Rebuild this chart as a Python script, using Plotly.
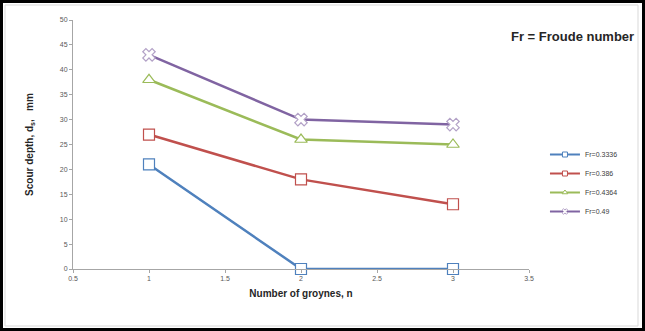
import plotly.graph_objects as go

n_groynes = [1, 2, 3]
series_names = ["Fr=0.3336", "Fr=0.386", "Fr=0.4364", "Fr=0.49"]
fr_03336 = [21, 0, 0]
fr_0386 = [27, 18, 13]
fr_04364 = [38, 26, 25]
fr_049 = [43, 30, 29]
x_ticks = [0.5, 1, 1.5, 2, 2.5, 3, 3.5]
x_tick_labels = ["0.5", "1", "1.5", "2", "2.5", "3", "3.5"]
y_ticks = [0, 5, 10, 15, 20, 25, 30, 35, 40, 45, 50]

colors = ["#4F81BD", "#C0504D", "#9BBB59", "#8064A2"]
symbols = ["square", "square", "triangle-up", "x"]
data = [fr_03336, fr_0386, fr_04364, fr_049]

fig = go.Figure()
for name, vals, c, s in zip(series_names, data, colors, symbols):
    mline = c if s != "x" else "#B3A2C7"
    fig.add_trace(go.Scatter(
        x=n_groynes, y=vals, name=name, mode="lines+markers",
        line=dict(color=c, width=2.5),
        marker=dict(symbol=s, size=11, color="white", line=dict(color=mline, width=1.2)),
        cliponaxis=False, showlegend=False,
    ))
    # legend-only entry with smaller marker
    fig.add_trace(go.Scatter(
        x=[None], y=[None], name=name, mode="lines+markers",
        line=dict(color=c, width=2),
        marker=dict(symbol=s, size=5, color="white", line=dict(color=mline, width=1)),
        showlegend=True,
    ))

fig.update_layout(
    width=645, height=331,
    margin=dict(l=73, r=116, t=20, b=62, autoexpand=False),
    paper_bgcolor="white", plot_bgcolor="white",
    font=dict(family="Liberation Sans, Arial", color="#404040"),
    showlegend=True,
    legend=dict(x=1.035, y=(269 - 183) / 249, xanchor="left", yanchor="middle",
                font=dict(size=7, color="#404040"), tracegroupgap=0,
                itemwidth=30, bgcolor="rgba(0,0,0,0)"),
    xaxis=dict(range=[0.5, 3.5], tickvals=x_ticks, ticktext=x_tick_labels,
               automargin=False,
               showgrid=False, zeroline=False, showline=True, linecolor="#A6A6A6",
               ticks="outside", ticklen=3, tickcolor="#A6A6A6",
               tickfont=dict(size=7, color="#595959"),
               title=dict(text="<b>Number of groynes, n</b>", font=dict(size=10, color="#262626"), standoff=8)),
    yaxis=dict(range=[0, 50], tickvals=y_ticks,
               automargin=False,
               showgrid=False, zeroline=False, showline=True, linecolor="#A6A6A6",
               ticks="outside", ticklen=3, tickcolor="#A6A6A6",
               tickfont=dict(size=7, color="#595959"),
               title=dict(text="<b>Scour depth, d<sub>s</sub>,   mm</b>", font=dict(size=10, color="#262626"), standoff=24)),
    annotations=[dict(text="<b>Fr = Froude number</b>", xref="paper", yref="paper",
                      x=(636 - 73) / 456, y=(269 - 37) / 249, xanchor="right", yanchor="middle", showarrow=False,
                      font=dict(size=13, color="#262626"))],
    shapes=[dict(type="rect", xref="paper", yref="paper",
                 x0=(1.5 - 73) / 456, x1=(643.5 - 73) / 456,
                 y0=(269 - 329.5) / 249, y1=(269 - 1.5) / 249,
                 line=dict(color="black", width=3)),
            dict(type="rect", xref="paper", yref="paper",
                 x0=(5 - 73) / 456, x1=(638 - 73) / 456,
                 y0=(269 - 326) / 249, y1=(269 - 5) / 249,
                 line=dict(color="#D9D9D9", width=1))],
)

fig.write_html("out.html",
               config={"displayModeBar": False},
               post_script="document.body.style.margin='0';document.body.style.overflow='hidden';")
